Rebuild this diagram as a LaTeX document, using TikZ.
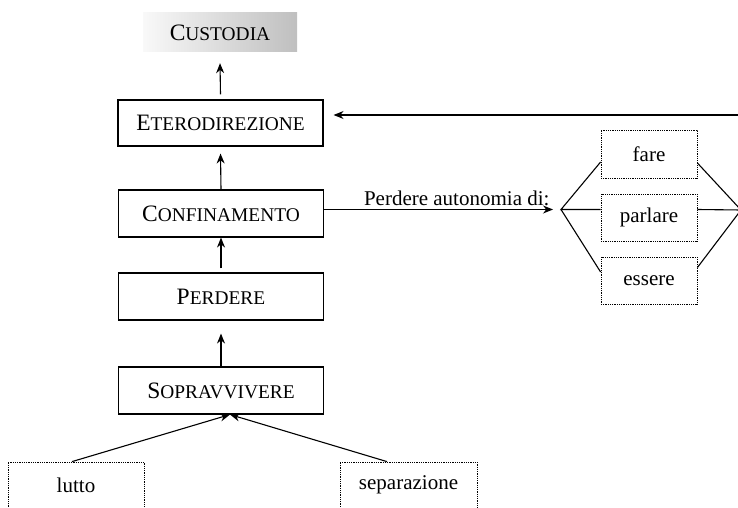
\documentclass[tikz,border=0pt]{standalone}
\usepackage{fontspec}
\setmainfont{Liberation Serif}
\usetikzlibrary{arrows.meta}
\newcommand\fsc[2]{{\fontsize{23.5}{25}\selectfont #1}{\fontsize{19.4}{21}\selectfont #2}}
\begin{document}
\begin{tikzpicture}[x=1pt,y=1pt,
  font=\fontsize{21}{24}\selectfont,
  mainbox/.style={draw, line width=1.1pt, minimum width=205pt, minimum height=47pt, inner sep=0pt},
  dotbox/.style={draw, densely dotted, line width=0.8pt, inner sep=0pt},
  arr/.style={-{Stealth[length=10pt,width=8pt]}, line width=1.1pt},
  ln/.style={line width=1.1pt}]
\useasboundingbox (0,0) rectangle (738,-508);
\node[inner sep=0pt, minimum width=154pt, minimum height=39pt, left color=gray!5, right color=gray!50] (cust) at (220,-32.5) {\fsc{C}{USTODIA}};
\node[mainbox, minimum height=46pt] (etero) at (220.5,-123) {\fsc{E}{TERODIREZIONE}};
\node[mainbox] (confin) at (221,-213.5) {\fsc{C}{ONFINAMENTO}};
\node[mainbox] (perd) at (221,-296.5) {\fsc{P}{ERDERE}};
\node[mainbox] (sopr) at (221,-390.5) {\fsc{S}{OPRAVVIVERE}};
\node[dotbox, minimum width=136pt, minimum height=58pt] (lutto) at (76,-491) {};
\node at (76,-485) {lutto};
\node[dotbox, minimum width=137pt, minimum height=58pt] (sep) at (408.5,-491) {};
\node at (408.5,-485) {separazione};
\node[dotbox, minimum width=96pt, minimum height=48pt] (fare) at (649,-154) {fare};
\node[dotbox, minimum width=96pt, minimum height=47pt] (parl) at (649,-217.5) {parlare};
\node[dotbox, minimum width=96pt, minimum height=47pt] (ess) at (649,-280.5) {essere};
\coordinate (L) at (561,-209.5);
\coordinate (R) at (741,-210);
\coordinate (far) at (745,-115);
\draw[arr] ([yshift=5pt]etero.north) -- ([yshift=-11pt]cust.south);
\draw[arr] (confin.north) -- ([yshift=-7pt]etero.south);
\draw[arr] ([yshift=4pt]perd.north) -- (confin.south);
\draw[arr] (sopr.north) -- ([yshift=-13pt]perd.south);
\draw[arr] ([xshift=-4pt]lutto.north) -- ([xshift=9pt]sopr.south);
\draw[arr] ([xshift=-21.5pt]sep.north) -- ([xshift=9pt]sopr.south);
\draw[arr, shorten >=8pt] ([yshift=4pt]confin.east) -- (L);
\node[anchor=base east] (lab) at (553,-205) {Perdere autonomia di:};
\draw[ln] ([yshift=-8pt]fare.west) -- (L) -- ([yshift=8pt]parl.west);
\draw[ln] (L) -- ([yshift=8.5pt]ess.west);
\draw[ln] ([yshift=-9pt]fare.east) -- (R) -- ([yshift=8pt]parl.east);
\draw[ln] (R) -- ([yshift=13pt]ess.east);
\draw[arr, shorten >=10pt] (far) -- ([yshift=8pt]etero.east);
\end{tikzpicture}
\end{document}
